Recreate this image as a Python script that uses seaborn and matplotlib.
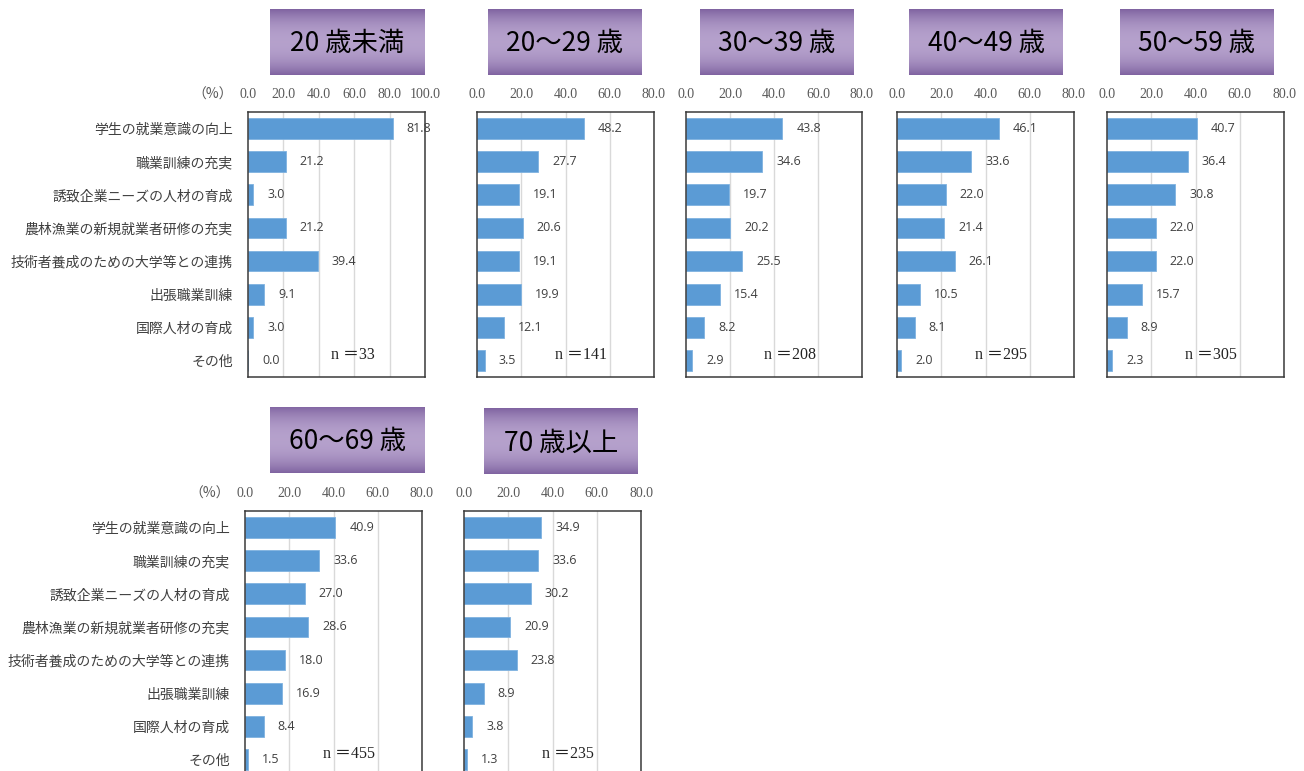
import numpy as np
import pandas as pd
import seaborn as sns
import matplotlib.pyplot as plt

# --- data ---
categories = ['学生の就業意識の向上', '職業訓練の充実', '誘致企業ニーズの人材の育成',
              '農林漁業の新規就業者研修の充実', '技術者養成のための大学等との連携',
              '出張職業訓練', '国際人材の育成', 'その他']
age_groups = ['20 歳未満', '20～29 歳', '30～39 歳', '40～49 歳',
              '50～59 歳', '60～69 歳', '70 歳以上']
under20 = [81.8, 21.2, 3.0, 21.2, 39.4, 9.1, 3.0, 0.0]
age20s = [48.2, 27.7, 19.1, 20.6, 19.1, 19.9, 12.1, 3.5]
age30s = [43.8, 34.6, 19.7, 20.2, 25.5, 15.4, 8.2, 2.9]
age40s = [46.1, 33.6, 22.0, 21.4, 26.1, 10.5, 8.1, 2.0]
age50s = [40.7, 36.4, 30.8, 22.0, 22.0, 15.7, 8.9, 2.3]
age60s = [40.9, 33.6, 27.0, 28.6, 18.0, 16.9, 8.4, 1.5]
over70 = [34.9, 33.6, 30.2, 20.9, 23.8, 8.9, 3.8, 1.3]
n_counts = [33, 141, 208, 295, 305, 455, 235]
x_max = [100, 80, 80, 80, 80, 80, 80]

series = [under20, age20s, age30s, age40s, age50s, age60s, over70]

# --- layout (pixels in the 1304x771 canvas) ---
W, H = 1304, 771
axes_px = [(248, 112, 425, 377), (477, 112, 654, 377), (686, 112, 862, 377),
           (897, 112, 1074, 377), (1107, 112, 1284, 377),
           (245, 511, 422, 776), (464, 511, 641, 776)]
title_px = [(270, 9, 425, 75), (488, 9, 642, 75), (700, 9, 854, 75),
            (909, 9, 1063, 75), (1120, 9, 1274, 75),
            (270, 407, 425, 473), (484, 408, 638, 474)]
show_cats = [True, False, False, False, False, True, False]

BAR = '#5b9bd5'
TXT = '#404040'
GRID = '#d9d9d9'


def frac(box):
    x0, y0, x1, y1 = box
    return [x0 / W, 1 - y1 / H, (x1 - x0) / W, (y1 - y0) / H]


sns.set_style('white')
plt.rcParams['font.family'] = ['Noto Sans CJK JP', 'DejaVu Sans']

fig = plt.figure(figsize=(W / 100, H / 100), dpi=100)

# purple gradient for title boxes
t = np.linspace(0, 1, 200)
w = np.clip(1 - np.abs(2 * t - 1) ** 2.2, 0, 1)
dark = np.array([0.50, 0.39, 0.63])
light = np.array([0.71, 0.63, 0.80])
grad = (dark[None, :] * (1 - w[:, None]) + light[None, :] * w[:, None])[:, None, :]

for i, vals in enumerate(series):
    ax = fig.add_axes(frac(axes_px[i]))
    df = pd.DataFrame({'cat': categories, 'val': vals})
    sns.barplot(data=df, x='val', y='cat', ax=ax, color=BAR, width=0.63,
                saturation=1, edgecolor='#7fb2e0', linewidth=0.6)
    ax.set_xlim(0, x_max[i])
    ax.set_ylim(7.5, -0.5)
    ticks = np.arange(0, x_max[i] + 1, 20)
    ax.set_xticks(ticks)
    ax.set_xticklabels([f'{v:.1f}' for v in ticks], family='Liberation Serif',
                       fontsize=10, color='#595959')
    ax.xaxis.tick_top()
    ax.tick_params(axis='x', length=0, pad=8)
    ax.set_xlabel('')
    ax.set_ylabel('')
    ax.set_axisbelow(True)
    for g in ticks[1:]:
        ax.axvline(g, color=GRID, lw=1, zorder=0)
    for s in ax.spines.values():
        s.set_visible(True)
        s.set_color('#3a3a3a')
        s.set_linewidth(1.1)
    if show_cats[i]:
        ax.tick_params(axis='y', length=0, pad=11, labelsize=10, labelcolor=TXT)
        x0, y0 = axes_px[i][0], axes_px[i][1]
        fig.text((x0 - 15) / W, 1 - (y0 - 17) / H, '（%）', ha='right', va='center',
                 fontsize=10, color='#595959')
    else:
        ax.set_yticklabels([])
        ax.tick_params(axis='y', length=0)
    for j, v in enumerate(vals):
        ax.annotate(f'{v:.1f}', (v, j), xytext=(10, 0), textcoords='offset points',
                    ha='left', va='center', fontsize=9, color=TXT,
                    family=['Open Sans', 'DejaVu Sans'])
    ax.text(0.59, 6.85, f'n ＝{n_counts[i]}', transform=ax.get_yaxis_transform(),
            ha='center', va='center', fontsize=11.5, color='#222222',
            family=['Liberation Serif', 'Noto Sans CJK JP'])

    # title box
    tax = fig.add_axes(frac(title_px[i]))
    tax.imshow(grad, aspect='auto', extent=(0, 1, 0, 1))
    tax.set_axis_off()
    tax.text(0.5, 0.47, age_groups[i], ha='center', va='center', fontsize=19,
             color='black', transform=tax.transAxes)

fig.savefig('out.png', dpi=100)
